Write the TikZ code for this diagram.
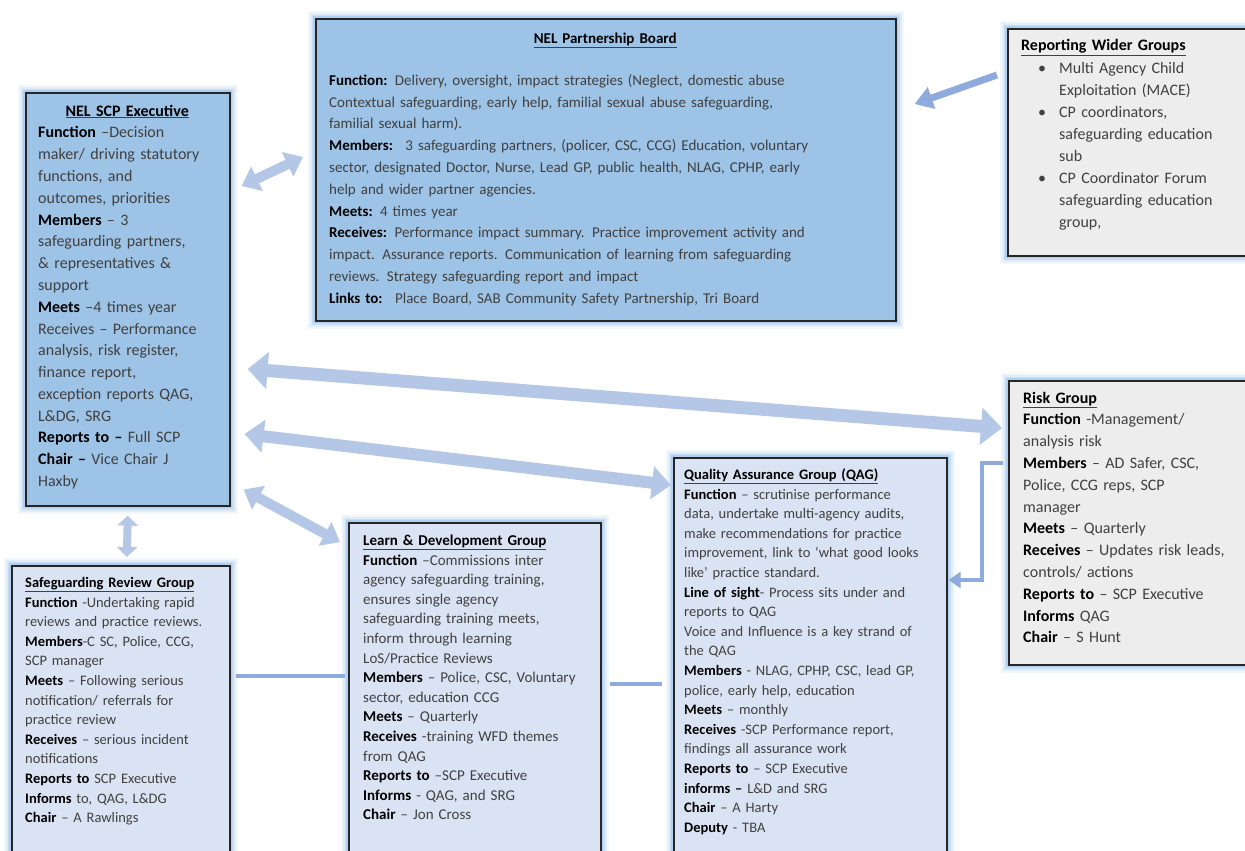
\documentclass[tikz,border=0pt]{standalone}
\usepackage{fontspec}
\setmainfont{Carlito}
\usetikzlibrary{arrows.meta,positioning}

\definecolor{boardblue}{HTML}{9DC3E6}
\definecolor{paleblue}{HTML}{DAE3F3}
\definecolor{palegrey}{HTML}{EDEDED}
\definecolor{glowblue}{HTML}{9CC2EA}
\definecolor{arrowblue}{HTML}{B4C7E7}
\definecolor{linkblue}{HTML}{8FAADC}
\definecolor{boxline}{HTML}{262626}
\definecolor{txtgrey}{HTML}{404040}

\newcommand{\hd}[1]{\textbf{\color{black}#1}}
\newcommand{\ttl}[1]{\underline{\textbf{\color{black}#1}}}
\newcommand{\bul}{\hspace*{17pt}\makebox[21pt][l]{\textbullet}}
\newcommand{\ind}{\hspace*{38pt}}

\tikzset{
  box/.style={draw=boxline, line width=1.6pt, anchor=north west, inner sep=0pt,
    preaction={draw=glowblue, line width=16pt, opacity=.12},
    preaction={draw=glowblue, line width=12pt, opacity=.2},
    preaction={draw=glowblue, line width=8pt, opacity=.35},
    preaction={draw=glowblue, line width=5pt, opacity=.5}},
  txt/.style={anchor=base west, inner sep=0pt, align=left, text=txtgrey},
  fat/.style={draw=arrowblue, line width=10pt,
    {Triangle[width=26pt,length=17pt]}-{Triangle[width=26pt,length=17pt]}},
  link/.style={draw=linkblue, line width=4pt},
}

\begin{document}
\begin{tikzpicture}[x=1pt, y=-1pt]
	\useasboundingbox (0,0) rectangle (1245,851);
	\fill[white] (0,0) rectangle (1245,851);
	\clip (0,0) rectangle (1245,851);

	% boxes
	\node[box, fill=boardblue, minimum width=204, minimum height=413] (exec) at (25,92) {};
	\node[box, fill=boardblue, minimum width=580, minimum height=302] (board) at (315,18) {};
	\node[box, fill=palegrey, minimum width=243, minimum height=227] (wider) at (1007,28) {};
	\node[box, fill=palegrey, minimum width=242, minimum height=284] (risk) at (1008,380) {};
	\node[box, fill=paleblue, minimum width=273, minimum height=420] (qag) at (673,457) {};
	\node[box, fill=paleblue, minimum width=252, minimum height=360] (learn) at (348,522) {};
	\node[box, fill=paleblue, minimum width=218, minimum height=320] (review) at (11,565) {};

	% texts
	\node[txt, text width=178, font=\fontsize{16}{21.8}\selectfont] (exectext) at ([shift={(13,24)}]exec.north west) {%
		\makebox[\linewidth]{\ttl{NEL SCP Executive}}\\
		\hd{Function} --Decision\\
		maker/ driving statutory\\
		functions, and\\
		outcomes, priorities\\
		\hd{Members} -- 3\\
		safeguarding partners,\\
		\& representatives \&\\
		support\\
		\hd{Meets} --4 times year\\
		Receives -- Performance\\
		analysis, risk register,\\
		finance report,\\
		exception reports QAG,\\
		L\&DG, SRG\\
		\hd{Reports to --} Full SCP\\
		\hd{Chair --} Vice Chair J\\
		Haxby};

	\node[txt, text width=552, font=\fontsize{15}{21.8}\selectfont] (boardtext) at ([shift={(14,25.5)}]board.north west) {%
		\makebox[\linewidth]{\ttl{NEL Partnership Board}}\\[20pt]
		\hd{Function:} Delivery, oversight, impact strategies (Neglect, domestic abuse\\
		Contextual safeguarding, early help, familial sexual abuse safeguarding,\\
		familial sexual harm).\\
		\hd{Members:}~ 3 safeguarding partners, (policer, CSC, CCG) Education, voluntary\\
		sector, designated Doctor, Nurse, Lead GP, public health, NLAG, CPHP, early\\
		help and wider partner agencies.\\
		\hd{Meets:} 4 times year\\
		\hd{Receives:} Performance impact summary. Practice improvement activity and\\
		impact. Assurance reports. Communication of learning from safeguarding\\
		reviews. Strategy safeguarding report and impact\\
		\hd{Links to:}~ Place Board, SAB Community Safety Partnership, Tri Board};

	\node[txt, text width=215, font=\fontsize{16}{22.1}\selectfont] (widertext) at ([shift={(14,23)}]wider.north west) {%
		\ttl{Reporting Wider Groups}\\
		\bul Multi Agency Child\\
		\ind Exploitation (MACE)\\
		\bul CP coordinators,\\
		\ind safeguarding education\\
		\ind sub\\
		\bul CP Coordinator Forum\\
		\ind safeguarding education\\
		\ind group,};

	\node[txt, text width=215, font=\fontsize{16}{21.8}\selectfont] (risktext) at ([shift={(15,23)}]risk.north west) {%
		\ttl{Risk Group}\\
		\hd{Function} -Management/\\
		analysis risk\\
		\hd{Members} -- AD Safer, CSC,\\
		Police, CCG reps, SCP\\
		manager\\
		\hd{Meets} -- Quarterly\\
		\hd{Receives} -- Updates risk leads,\\
		controls/ actions\\
		\hd{Reports to} -- SCP Executive\\
		\hd{Informs} QAG\\
		\hd{Chair} -- S Hunt};

	\node[txt, text width=255, font=\fontsize{14.5}{19.6}\selectfont] (qagtext) at ([shift={(11,22.5)}]qag.north west) {%
		\ttl{Quality Assurance Group (QAG)}\\
		\hd{Function} -- scrutinise performance\\
		data, undertake multi-agency audits,\\
		make recommendations for practice\\
		improvement, link to `what good looks\\
		like' practice standard.\\
		\hd{Line of sight}- Process sits under and\\
		reports to QAG\\
		Voice and Influence is a key strand of\\
		the QAG\\
		\hd{Members} - NLAG, CPHP, CSC, lead GP,\\
		police, early help, education\\
		\hd{Meets} -- monthly\\
		\hd{Receives} -SCP Performance report,\\
		findings all assurance work\\
		\hd{Reports to} -- SCP Executive\\
		\hd{informs --} L\&D and SRG\\
		\hd{Chair} -- A Harty\\
		\hd{Deputy} - TBA};

	\node[txt, text width=230, font=\fontsize{15}{19.6}\selectfont] (learntext) at ([shift={(15,23.5)}]learn.north west) {%
		\ttl{Learn \& Development Group}\\
		\hd{Function} --Commissions inter\\
		agency safeguarding training,\\
		ensures single agency\\
		safeguarding training meets,\\
		inform through learning\\
		LoS/Practice Reviews\\
		\hd{Members} -- Police, CSC, Voluntary\\
		sector, education CCG\\
		\hd{Meets} -- Quarterly\\
		\hd{Receives} -training WFD themes\\
		from QAG\\
		\hd{Reports to} --SCP Executive\\
		\hd{Informs} - QAG, and SRG\\
		\hd{Chair} -- Jon Cross};

	\node[txt, text width=200, font=\fontsize{14.5}{19.6}\selectfont] (reviewtext) at ([shift={(14,22.5)}]review.north west) {%
		\ttl{Safeguarding Review Group}\\
		\hd{Function} -Undertaking rapid\\
		reviews and practice reviews.\\
		\hd{Members}-C SC, Police, CCG,\\
		SCP manager\\
		\hd{Meets} -- Following serious\\
		notification/ referrals for\\
		practice review\\
		\hd{Receives} -- serious incident\\
		notifications\\
		\hd{Reports to} SCP Executive\\
		\hd{Informs} to, QAG, L\&DG\\
		\hd{Chair} -- A Rawlings};

	% connectors
	\draw[fat] ([shift={(11,94)}]exec.north east) -- ([shift={(-12,139)}]board.north west);
	\draw[draw=linkblue, line width=7pt, -{Triangle[width=22pt,length=18pt]}]
		([shift={(-10,47)}]wider.north west) -- ([shift={(18,86)}]board.north east);
	\draw[fat, line width=13pt, {Triangle[width=36pt,length=20pt]}-{Triangle[width=36pt,length=21pt]}]
		([shift={(17,277)}]exec.north east) -- ([shift={(-6,48)}]risk.north west);
	\draw[fat, line width=12pt, {Triangle[width=32pt,length=19pt]}-{Triangle[width=32pt,length=19pt]}]
		([shift={(14,342)}]exec.north east) -- ([shift={(-2,28)}]qag.north west);
	\draw[fat] ([shift={(13,-17)}]exec.south east) -- ([shift={(-8,20)}]learn.north west);
	\draw[fat, line width=8pt, {Triangle[width=20pt,length=10pt]}-{Triangle[width=20pt,length=10pt]}]
		([shift={(0,9)}]exec.south) -- ([shift={(6,-8)}]review.north);
	\draw[link] ([shift={(5,111)}]review.north east) -- ([shift={(-3,154)}]learn.north west);
	\draw[link] ([shift={(8,162)}]learn.north east) -- ([shift={(-11,227)}]qag.north west);
	\draw[link, -{Triangle[width=16pt,length=12pt]}] ([shift={(-5,83)}]risk.north west)
		-| ([shift={(34,123)}]qag.north east) -- ([shift={(1,123)}]qag.north east);
\end{tikzpicture}
\end{document}
